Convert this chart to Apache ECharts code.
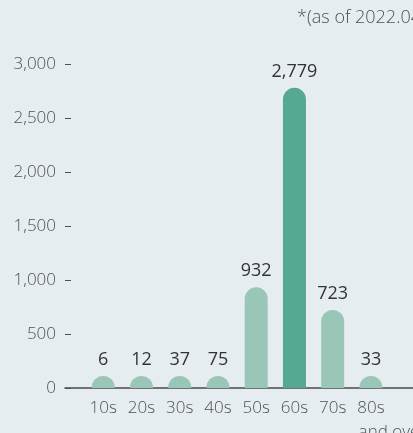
<!DOCTYPE html>
<html>
<head>
<meta charset="utf-8">
<script src="https://cdn.jsdelivr.net/npm/echarts@6/dist/echarts.min.js"></script>
<style>
  html, body { margin: 0; padding: 0; background: #e6edf0; overflow: hidden; }
  #chart { width: 413px; height: 433px; }
</style>
</head>
<body>
<div id="chart"></div>
<script>
// age groups and counts
const ageGroups = ["10s", "20s", "30s", "40s", "50s", "60s", "70s", "80s"];
const counts = [6, 12, 37, 75, 932, 2779, 723, 33];
const highlightGroup = "60s";
const yTicks = [0, 500, 1000, 1500, 2000, 2500, 3000];
const note = "*(as of 2022.04)";

const fmt = (v) => v.toLocaleString("en-US");
const font = "Open Sans";
const grey = "#505050";

const chart = echarts.init(document.getElementById("chart"));

chart.setOption({
  backgroundColor: "#e6edf0",
  animation: false,
  title: {
    text: note,
    left: 292,
    top: 4,
    textStyle: { color: grey, fontSize: 18, fontWeight: 300, fontFamily: font },
  },
  grid: { left: 65, right: 0, top: 64, bottom: 45, containLabel: false, outerBoundsMode: "none" },
  xAxis: {
    type: "value",
    min: -1,
    max: 8.1,
    interval: 1,
    splitLine: { show: false },
    axisTick: { show: false },
    axisLine: { show: true, lineStyle: { color: "#4a4a4a", width: 1.5 } },
    axisLabel: {
      margin: 8,
      fontSize: 17,
      fontWeight: 300,
      color: grey,
      fontFamily: font,
      formatter: (v) => {
        const name = ageGroups[v];
        if (!name) return "";
        if (v === ageGroups.length - 1) return "{a|" + name + "}\n{b|and over}";
        return "{a|" + name + "}";
      },
      rich: {
        a: { fontSize: 17, fontWeight: 300, color: grey, fontFamily: font, lineHeight: 24 },
        b: { fontSize: 17, fontWeight: 300, color: grey, fontFamily: font, lineHeight: 24, width: 110, align: "right" },
      },
    },
  },
  yAxis: {
    type: "value",
    min: yTicks[0],
    max: yTicks[yTicks.length - 1],
    interval: 500,
    splitLine: { show: false },
    axisLine: { show: false, onZero: false },
    axisTick: { show: true, inside: true, length: 6, lineStyle: { color: grey } },
    axisLabel: {
      margin: 9,
      fontSize: 17,
      fontWeight: 300,
      color: grey,
      fontFamily: font,
      formatter: (v) => fmt(v),
    },
  },
  series: [
    {
      type: "bar",
      barWidth: 23,
      barMinHeight: 12,
      data: counts.map((v, i) => ({
        value: [i, v],
        itemStyle: {
          color: ageGroups[i] === highlightGroup ? "#55a993" : "#9ac6b8",
          borderRadius: [11.5, 11.5, 0, 0],
        },
      })),
      label: {
        show: true,
        position: "top",
        distance: 7,
        fontSize: 18,
        color: "#333",
        fontFamily: font,
        formatter: (p) => fmt(p.value[1]),
      },
    },
  ],
});
</script>
</body>
</html>
